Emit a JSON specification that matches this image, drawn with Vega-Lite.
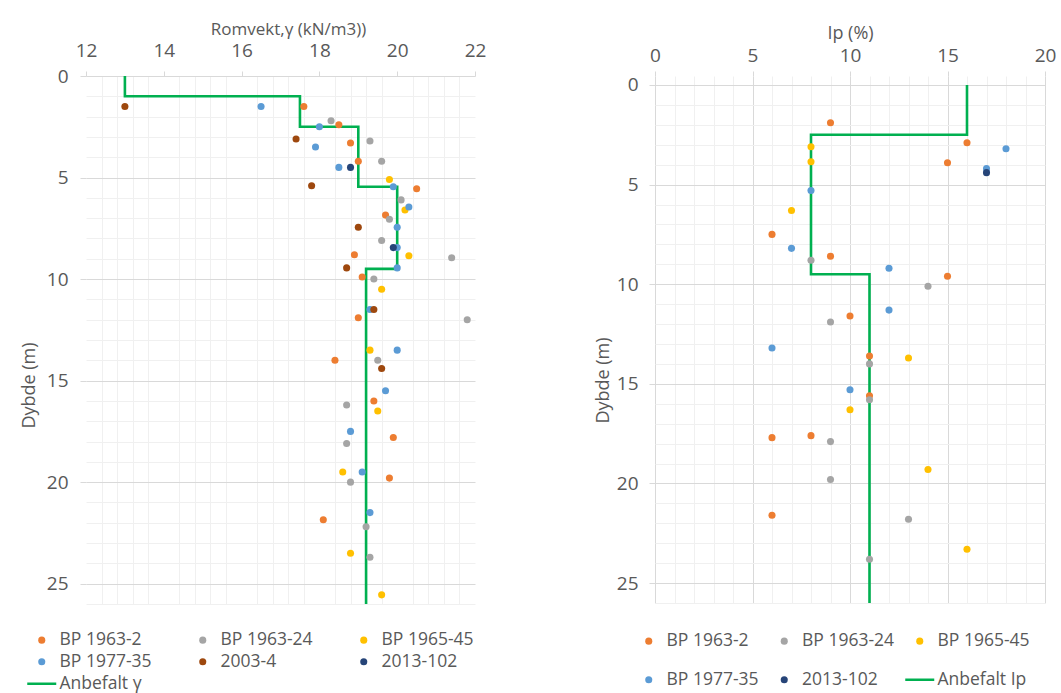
{
 "$schema": "https://vega.github.io/schema/vega-lite/v6.json",
 "background": "white",
 "padding": {"left": 20, "top": 20, "right": 0, "bottom": 0},
 "autosize": {"type": "pad"},
 "config": {
  "font": "Open Sans",
  "view": {"stroke": null},
  "axis": {"labelColor": "#595959", "titleColor": "#595959", "labelFont": "Open Sans", "titleFont": "Open Sans", "labelFontSize": 19, "titleFontSize": 18, "titleFontWeight": "normal", "domain": false, "tickColor": "#d9d9d9", "grid": true, "labelOverlap": false, "labelFlush": false},
  "legend": {"labelColor": "#595959", "labelFontSize": 17.5, "labelFont": "Open Sans"}
 },
 "datasets": {
  "gammaPts": [
   {"series": "BP 1963-2", "value": 17.6, "depth": 1.5},
   {"series": "BP 1963-2", "value": 18.5, "depth": 2.4},
   {"series": "BP 1963-2", "value": 18.8, "depth": 3.3},
   {"series": "BP 1963-2", "value": 19.0, "depth": 4.2},
   {"series": "BP 1963-2", "value": 20.5, "depth": 5.55},
   {"series": "BP 1963-2", "value": 19.7, "depth": 6.85},
   {"series": "BP 1963-2", "value": 18.9, "depth": 8.8},
   {"series": "BP 1963-2", "value": 19.1, "depth": 9.9},
   {"series": "BP 1963-2", "value": 19.0, "depth": 11.9},
   {"series": "BP 1963-2", "value": 18.4, "depth": 14.0},
   {"series": "BP 1963-2", "value": 19.4, "depth": 16.0},
   {"series": "BP 1963-2", "value": 19.9, "depth": 17.8},
   {"series": "BP 1963-2", "value": 19.8, "depth": 19.8},
   {"series": "BP 1963-2", "value": 18.1, "depth": 21.85},
   {"series": "BP 1963-24", "value": 18.3, "depth": 2.2},
   {"series": "BP 1963-24", "value": 19.3, "depth": 3.2},
   {"series": "BP 1963-24", "value": 19.6, "depth": 4.2},
   {"series": "BP 1963-24", "value": 20.1, "depth": 6.1},
   {"series": "BP 1963-24", "value": 19.8, "depth": 7.05},
   {"series": "BP 1963-24", "value": 19.6, "depth": 8.1},
   {"series": "BP 1963-24", "value": 21.4, "depth": 8.95},
   {"series": "BP 1963-24", "value": 19.4, "depth": 10.0},
   {"series": "BP 1963-24", "value": 21.8, "depth": 12.0},
   {"series": "BP 1963-24", "value": 19.5, "depth": 14.0},
   {"series": "BP 1963-24", "value": 18.7, "depth": 16.2},
   {"series": "BP 1963-24", "value": 18.7, "depth": 18.1},
   {"series": "BP 1963-24", "value": 18.8, "depth": 20.0},
   {"series": "BP 1963-24", "value": 19.2, "depth": 22.2},
   {"series": "BP 1963-24", "value": 19.3, "depth": 23.7},
   {"series": "BP 1965-45", "value": 19.8, "depth": 5.1},
   {"series": "BP 1965-45", "value": 20.2, "depth": 6.6},
   {"series": "BP 1965-45", "value": 20.3, "depth": 8.85},
   {"series": "BP 1965-45", "value": 19.6, "depth": 10.5},
   {"series": "BP 1965-45", "value": 19.3, "depth": 13.5},
   {"series": "BP 1965-45", "value": 19.5, "depth": 16.5},
   {"series": "BP 1965-45", "value": 18.6, "depth": 19.5},
   {"series": "BP 1965-45", "value": 18.8, "depth": 23.5},
   {"series": "BP 1965-45", "value": 19.6, "depth": 25.55},
   {"series": "BP 1977-35", "value": 16.5, "depth": 1.5},
   {"series": "BP 1977-35", "value": 18.0, "depth": 2.5},
   {"series": "BP 1977-35", "value": 17.9, "depth": 3.5},
   {"series": "BP 1977-35", "value": 18.5, "depth": 4.5},
   {"series": "BP 1977-35", "value": 19.9, "depth": 5.45},
   {"series": "BP 1977-35", "value": 20.3, "depth": 6.45},
   {"series": "BP 1977-35", "value": 20.0, "depth": 7.45},
   {"series": "BP 1977-35", "value": 20.0, "depth": 8.45},
   {"series": "BP 1977-35", "value": 20.0, "depth": 9.45},
   {"series": "BP 1977-35", "value": 19.3, "depth": 11.5},
   {"series": "BP 1977-35", "value": 20.0, "depth": 13.5},
   {"series": "BP 1977-35", "value": 19.7, "depth": 15.5},
   {"series": "BP 1977-35", "value": 18.8, "depth": 17.5},
   {"series": "BP 1977-35", "value": 19.1, "depth": 19.5},
   {"series": "BP 1977-35", "value": 19.3, "depth": 21.5},
   {"series": "2003-4", "value": 13.0, "depth": 1.5},
   {"series": "2003-4", "value": 17.4, "depth": 3.1},
   {"series": "2003-4", "value": 17.8, "depth": 5.4},
   {"series": "2003-4", "value": 19.0, "depth": 7.45},
   {"series": "2003-4", "value": 18.7, "depth": 9.45},
   {"series": "2003-4", "value": 19.4, "depth": 11.5},
   {"series": "2003-4", "value": 19.6, "depth": 14.4},
   {"series": "2013-102", "value": 18.8, "depth": 4.5},
   {"series": "2013-102", "value": 19.9, "depth": 8.45}
  ],
  "gammaLine": [
   {"seq": 1, "value": 13, "depth": 0},
   {"seq": 2, "value": 13, "depth": 1},
   {"seq": 3, "value": 17.5, "depth": 1},
   {"seq": 4, "value": 17.5, "depth": 2.5},
   {"seq": 5, "value": 19, "depth": 2.5},
   {"seq": 6, "value": 19, "depth": 5.45},
   {"seq": 7, "value": 20, "depth": 5.45},
   {"seq": 8, "value": 20, "depth": 9.5},
   {"seq": 9, "value": 19.2, "depth": 9.5},
   {"seq": 10, "value": 19.2, "depth": 26}
  ],
  "ipPts": [
   {"series": "BP 1963-2", "value": 9, "depth": 1.9},
   {"series": "BP 1963-2", "value": 16, "depth": 2.9},
   {"series": "BP 1963-2", "value": 15, "depth": 3.9},
   {"series": "BP 1963-2", "value": 6, "depth": 7.5},
   {"series": "BP 1963-2", "value": 9, "depth": 8.6},
   {"series": "BP 1963-2", "value": 15, "depth": 9.6},
   {"series": "BP 1963-2", "value": 10, "depth": 11.6},
   {"series": "BP 1963-2", "value": 11, "depth": 13.6},
   {"series": "BP 1963-2", "value": 11, "depth": 15.6},
   {"series": "BP 1963-2", "value": 6, "depth": 17.7},
   {"series": "BP 1963-2", "value": 8, "depth": 17.6},
   {"series": "BP 1963-2", "value": 6, "depth": 21.6},
   {"series": "BP 1963-24", "value": 8, "depth": 8.8},
   {"series": "BP 1963-24", "value": 14, "depth": 10.1},
   {"series": "BP 1963-24", "value": 9, "depth": 11.9},
   {"series": "BP 1963-24", "value": 11, "depth": 14.0},
   {"series": "BP 1963-24", "value": 11, "depth": 15.8},
   {"series": "BP 1963-24", "value": 9, "depth": 17.9},
   {"series": "BP 1963-24", "value": 9, "depth": 19.8},
   {"series": "BP 1963-24", "value": 13, "depth": 21.8},
   {"series": "BP 1963-24", "value": 11, "depth": 23.8},
   {"series": "BP 1965-45", "value": 8, "depth": 3.1},
   {"series": "BP 1965-45", "value": 8, "depth": 3.85},
   {"series": "BP 1965-45", "value": 7, "depth": 6.3},
   {"series": "BP 1965-45", "value": 13, "depth": 13.7},
   {"series": "BP 1965-45", "value": 10, "depth": 16.3},
   {"series": "BP 1965-45", "value": 14, "depth": 19.3},
   {"series": "BP 1965-45", "value": 16, "depth": 23.3},
   {"series": "BP 1977-35", "value": 18, "depth": 3.2},
   {"series": "BP 1977-35", "value": 17, "depth": 4.2},
   {"series": "BP 1977-35", "value": 8, "depth": 5.3},
   {"series": "BP 1977-35", "value": 7, "depth": 8.2},
   {"series": "BP 1977-35", "value": 12, "depth": 9.2},
   {"series": "BP 1977-35", "value": 12, "depth": 11.3},
   {"series": "BP 1977-35", "value": 6, "depth": 13.2},
   {"series": "BP 1977-35", "value": 10, "depth": 15.3},
   {"series": "2013-102", "value": 17, "depth": 4.4}
  ],
  "ipLine": [
   {"seq": 1, "value": 16, "depth": 0},
   {"seq": 2, "value": 16, "depth": 2.5},
   {"seq": 3, "value": 8, "depth": 2.5},
   {"seq": 4, "value": 8, "depth": 9.5},
   {"seq": 5, "value": 11, "depth": 9.5},
   {"seq": 6, "value": 11, "depth": 26}
  ]
 },
 "hconcat": [
  {
   "width": 389,
   "height": 528,
   "encoding": {
    "y": {"field": "depth", "type": "quantitative",
     "scale": {"domain": [0, 26], "nice": false, "zero": false, "reverse": true},
     "axis": {"orient": "left", "title": "Dybde (m)", "titleX": -57, "titleY": 309, "titleAlign": "center", "titleBaseline": "middle", "titleAngle": -90, "labelOverlap": false, "labelFlush": false,
      "values": [0, 1, 2, 3, 4, 5, 6, 7, 8, 9, 10, 11, 12, 13, 14, 15, 16, 17, 18, 19, 20, 21, 22, 23, 24, 25, 26],
      "labelExpr": "datum.value % 5 === 0 ? datum.label : ''",
      "gridColor": {"condition": {"test": "datum.value % 5 === 0", "value": "#d9d9d9"}, "value": "#f0f0f0"},
      "tickOpacity": {"condition": {"test": "datum.value % 5 === 0", "value": 1}, "value": 0},
      "tickSize": 6, "labelPadding": 12}}
   },
   "layer": [
    {
     "data": {"name": "gammaLine"},
     "mark": {"type": "line", "strokeWidth": 2.6},
     "encoding": {
      "x": {"field": "value", "type": "quantitative",
       "scale": {"domain": [12, 22], "nice": false, "zero": false},
       "axis": {"orient": "bottom", "title": null, "labels": false, "ticks": false, "domain": false, "grid": true, "gridColor": "#f0f0f0",
        "values": [12.4, 12.8, 13.2, 13.6, 14.4, 14.8, 15.2, 15.6, 16.4, 16.8, 17.2, 17.6, 18.4, 18.8, 19.2, 19.6, 20.4, 20.8, 21.2, 21.6]}},
      "order": {"field": "seq", "type": "quantitative"},
      "color": {"datum": "Anbefalt γ", "type": "nominal",
       "scale": {"domain": ["BP 1963-2", "BP 1963-24", "BP 1965-45", "BP 1977-35", "2003-4", "2013-102", "Anbefalt γ"], "range": ["#ED7D31", "#A5A5A5", "#FFC000", "#5B9BD5", "#9E480E", "#264478", "#00B050"]},
       "legend": {"orient": "none", "direction": "horizontal", "legendX": -53, "legendY": 555, "columns": 3, "title": null, "symbolType": "circle", "symbolSize": 50, "labelOffset": 9, "columnPadding": 42, "rowPadding": 3, "gridAlign": "all",
        "encode": {"symbols": {"update": {
         "shape": {"signal": "datum.value === 'Anbefalt γ' ? 'stroke' : 'circle'"},
         "size": {"signal": "datum.value === 'Anbefalt γ' ? 841 : 50"},
         "stroke": {"signal": "datum.value === 'Anbefalt γ' ? '#00B050' : 'transparent'"},
         "strokeWidth": {"signal": "datum.value === 'Anbefalt γ' ? 2.5 : 0"}}}}}}
     }
    },
    {
     "data": {"name": "gammaPts"},
     "mark": {"type": "point", "filled": true, "size": 50, "opacity": 1},
     "encoding": {
      "x": {"field": "value", "type": "quantitative",
       "scale": {"domain": [12, 22], "nice": false, "zero": false},
       "axis": {"orient": "top", "title": "Romvekt,γ (kN/m3))", "titleFontSize": 17, "titleX": 202, "titlePadding": 3, "labelOverlap": false, "labelFlush": false,
        "values": [12, 14, 16, 18, 20, 22], "gridColor": "#d9d9d9", "tickSize": 5, "labelPadding": 11}},
      "color": {"field": "series", "type": "nominal",
       "scale": {"domain": ["BP 1963-2", "BP 1963-24", "BP 1965-45", "BP 1977-35", "2003-4", "2013-102", "Anbefalt γ"], "range": ["#ED7D31", "#A5A5A5", "#FFC000", "#5B9BD5", "#9E480E", "#264478", "#00B050"]},
       "legend": {"orient": "none", "direction": "horizontal", "legendX": -53, "legendY": 555, "columns": 3, "title": null, "symbolType": "circle", "symbolSize": 50, "labelOffset": 9, "columnPadding": 42, "rowPadding": 3, "gridAlign": "all",
        "encode": {"symbols": {"update": {
         "shape": {"signal": "datum.value === 'Anbefalt γ' ? 'stroke' : 'circle'"},
         "size": {"signal": "datum.value === 'Anbefalt γ' ? 841 : 50"},
         "stroke": {"signal": "datum.value === 'Anbefalt γ' ? '#00B050' : 'transparent'"},
         "strokeWidth": {"signal": "datum.value === 'Anbefalt γ' ? 2.5 : 0"}}}}}}
     }
    }
   ],
   "resolve": {"axis": {"x": "independent"}}
  },
  {
   "width": 390,
   "height": 527,
   "encoding": {
    "x": {"field": "value", "type": "quantitative",
     "scale": {"domain": [0, 20], "nice": false, "zero": false},
     "axis": {"orient": "top", "title": "Ip (%)", "titlePadding": 4, "labelOverlap": false, "labelFlush": false,
      "values": [0, 1, 2, 3, 4, 5, 6, 7, 8, 9, 10, 11, 12, 13, 14, 15, 16, 17, 18, 19, 20],
      "labelExpr": "datum.value % 5 === 0 ? datum.label : ''",
      "gridColor": {"condition": {"test": "datum.value % 5 === 0", "value": "#d9d9d9"}, "value": "#f0f0f0"},
      "tickOpacity": {"condition": {"test": "datum.value % 5 === 0", "value": 1}, "value": 0},
      "tickSize": 5, "labelPadding": 5.5}},
    "y": {"field": "depth", "type": "quantitative",
     "scale": {"domain": [-0.45, 26], "nice": false, "zero": false, "reverse": true},
     "axis": {"orient": "left", "title": "Dybde (m)", "titleX": -52, "titleY": 304, "titleAlign": "center", "titleBaseline": "middle", "titleAngle": -90, "labelOverlap": false, "labelFlush": false,
      "values": [0, 1, 2, 3, 4, 5, 6, 7, 8, 9, 10, 11, 12, 13, 14, 15, 16, 17, 18, 19, 20, 21, 22, 23, 24, 25, 26],
      "labelExpr": "datum.value % 5 === 0 ? datum.label : ''",
      "gridColor": {"condition": {"test": "datum.value % 5 === 0", "value": "#d9d9d9"}, "value": "#f0f0f0"},
      "tickOpacity": {"condition": {"test": "datum.value % 5 === 0", "value": 1}, "value": 0},
      "tickSize": 6, "labelPadding": 11}}
   },
   "layer": [
    {
     "data": {"name": "ipLine"},
     "mark": {"type": "line", "strokeWidth": 2.6},
     "encoding": {
      "order": {"field": "seq", "type": "quantitative"},
      "color": {"datum": "Anbefalt Ip", "type": "nominal",
       "scale": {"domain": ["BP 1963-2", "BP 1963-24", "BP 1965-45", "BP 1977-35", "2013-102", "Anbefalt Ip"], "range": ["#ED7D31", "#A5A5A5", "#FFC000", "#5B9BD5", "#264478", "#00B050"]},
       "legend": {"orient": "none", "direction": "horizontal", "legendX": -15, "legendY": 556, "columns": 3, "title": null, "symbolType": "circle", "symbolSize": 50, "labelOffset": 9, "columnPadding": 5.5, "rowPadding": 20, "gridAlign": "all",
        "encode": {"symbols": {"update": {
         "shape": {"signal": "datum.value === 'Anbefalt Ip' ? 'stroke' : 'circle'"},
         "size": {"signal": "datum.value === 'Anbefalt Ip' ? 841 : 50"},
         "stroke": {"signal": "datum.value === 'Anbefalt Ip' ? '#00B050' : 'transparent'"},
         "strokeWidth": {"signal": "datum.value === 'Anbefalt Ip' ? 2.5 : 0"}}}}}}
     }
    },
    {
     "data": {"name": "ipPts"},
     "mark": {"type": "point", "filled": true, "size": 50, "opacity": 1},
     "encoding": {
      "color": {"field": "series", "type": "nominal",
       "scale": {"domain": ["BP 1963-2", "BP 1963-24", "BP 1965-45", "BP 1977-35", "2013-102", "Anbefalt Ip"], "range": ["#ED7D31", "#A5A5A5", "#FFC000", "#5B9BD5", "#264478", "#00B050"]},
       "legend": {"orient": "none", "direction": "horizontal", "legendX": -15, "legendY": 556, "columns": 3, "title": null, "symbolType": "circle", "symbolSize": 50, "labelOffset": 9, "columnPadding": 5.5, "rowPadding": 20, "gridAlign": "all",
        "encode": {"symbols": {"update": {
         "shape": {"signal": "datum.value === 'Anbefalt Ip' ? 'stroke' : 'circle'"},
         "size": {"signal": "datum.value === 'Anbefalt Ip' ? 841 : 50"},
         "stroke": {"signal": "datum.value === 'Anbefalt Ip' ? '#00B050' : 'transparent'"},
         "strokeWidth": {"signal": "datum.value === 'Anbefalt Ip' ? 2.5 : 0"}}}}}}
     }
    }
   ]
  }
 ],
 "spacing": 108,
 "align": "none",
 "bounds": "full",
 "resolve": {"scale": {"color": "independent", "x": "independent", "y": "independent"}, "legend": {"color": "independent"}}
}
